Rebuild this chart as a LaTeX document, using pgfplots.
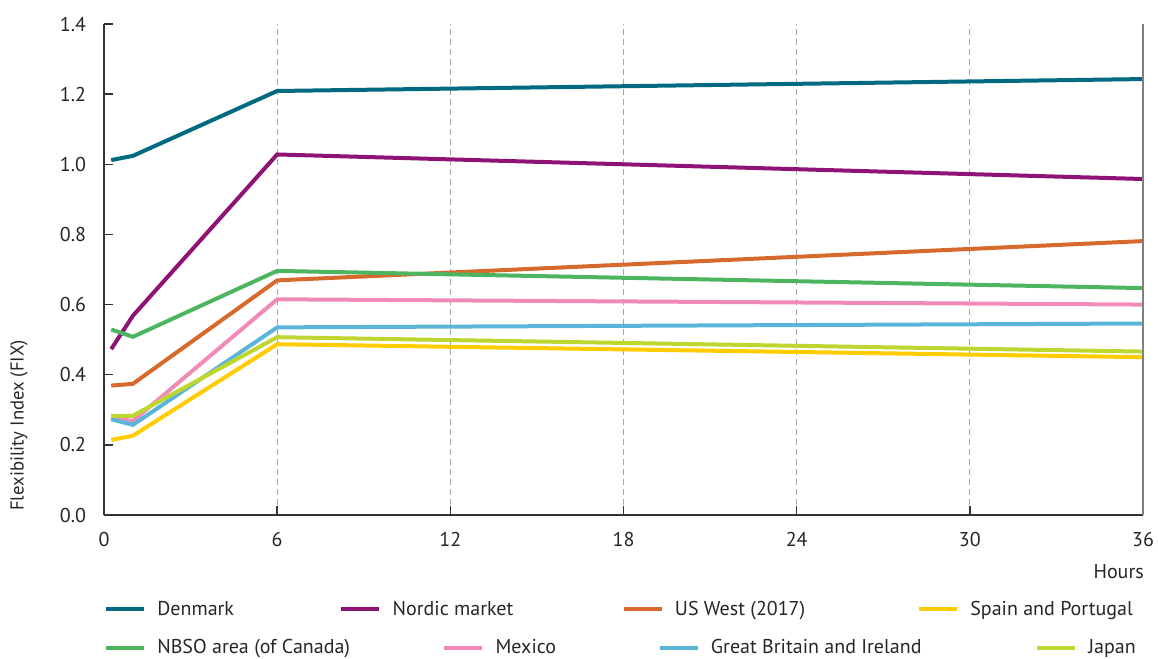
\documentclass[border=0pt]{standalone}
\usepackage{pgfplots}
\pgfplotsset{compat=1.18}
\usepackage{fontspec}
\setmainfont{PT Sans}
\definecolor{cDen}{HTML}{006A80}
\definecolor{cNor}{HTML}{8F1275}
\definecolor{cUS}{HTML}{D8692C}
\definecolor{cSpa}{HTML}{FFCC00}
\definecolor{cNB}{HTML}{4DB560}
\definecolor{cMex}{HTML}{F08BB8}
\definecolor{cGB}{HTML}{5BB5D8}
\definecolor{cJap}{HTML}{BFD630}
\definecolor{axgray}{HTML}{333333}
\definecolor{txt}{HTML}{262626}
\begin{document}
\begin{tikzpicture}
\useasboundingbox (-78pt,-107.25pt) rectangle (790.5pt,386.25pt);
\pgfplotsset{
  myleg/.style={
    legend style={draw=none, fill=none, inner sep=0pt, outer sep=0pt,
      font=\fontsize{15}{17}\selectfont, text=txt,
      nodes={inner sep=0pt, anchor=west},
      /tikz/every odd column/.append style={column sep=8.5pt},
      /tikz/every even column/.append style={column sep=0pt}},
    legend columns=4,
    legend image code/.code={\draw[##1, line width=3pt] (0pt,0pt) -- (28.5pt,0pt); \path (0pt,5pt);},
  }
}
\begin{axis}[
  at={(0,0)}, anchor=south west,
  scale only axis, width=779.25pt, height=368.25pt,
  xmin=0, xmax=36, ymin=0, ymax=1.4,
  axis x line*=bottom, axis y line*=left,
  axis line style={axgray, line width=1pt},
  xtick={0,6,...,36}, ytick={0,0.2,...,1.4},
  /pgf/number format/assume math mode=true,
  tick label style={font=\fontsize{15}{17}\selectfont, text=txt},
  yticklabel style={/pgf/number format/fixed, /pgf/number format/fixed zerofill, /pgf/number format/precision=1, xshift=-10pt},
  xticklabel style={yshift=-9.5pt},
  tick align=inside, major tick length=7pt,
  tick style={axgray, line width=1pt},
  xmajorgrids, grid style={gray!70, line width=0.9pt, dash pattern=on 4.5pt off 3pt},
  ylabel={Flexibility Index (FIX)},
  every axis y label/.style={at={(-63.75pt,3pt)}, rotate=90, anchor=west, inner sep=0pt, font=\fontsize{14}{16}\selectfont, text=txt},
  xlabel={Hours},
  every axis x label/.style={at={(780pt,-42.75pt)}, anchor=east, inner sep=0pt, font=\fontsize{15}{17}\selectfont, text=txt},
  myleg,
  legend style={at={(0pt,-70.5pt)}, anchor=west},
  clip=false,
]
\addplot[cDen, line width=3pt] coordinates {(0.25,1.012) (1,1.024) (6,1.209) (36,1.243)};
\addplot[cNor, line width=3pt] coordinates {(0.25,0.473) (1,0.568) (6,1.028) (36,0.958)};
\addplot[cUS, line width=3pt] coordinates {(0.25,0.369) (1,0.374) (6,0.669) (36,0.781)};
\addplot[cSpa, line width=3pt] coordinates {(0.25,0.214) (1,0.226) (6,0.487) (36,0.450)};
\addplot[cNB, line width=3pt, forget plot] coordinates {(0.25,0.529) (1,0.508) (6,0.696) (36,0.647)};
\addplot[cMex, line width=3pt, forget plot] coordinates {(0.25,0.277) (1,0.268) (6,0.615) (36,0.600)};
\addplot[cGB, line width=3pt, forget plot] coordinates {(0.25,0.273) (1,0.257) (6,0.535) (36,0.546)};
\addplot[cJap, line width=3pt, forget plot] coordinates {(0.25,0.283) (1,0.283) (6,0.507) (36,0.466)};
\draw[gray, line width=1.1pt] (rel axis cs:1,0) -- (rel axis cs:1,1);
\legend{\makebox[136.5pt][l]{Denmark},\makebox[171.75pt][l]{Nordic market},\makebox[181.5pt][l]{US West (2017)},Spain and Portugal}
\end{axis}
\begin{axis}[
  at={(0,0)}, anchor=south west,
  scale only axis, width=779.25pt, height=368.25pt,
  xmin=0, xmax=36, ymin=0, ymax=1.4,
  hide axis,
  myleg,
  legend style={at={(0pt,-99.5pt)}, anchor=west},
]
\addlegendimage{cNB}
\addlegendentry{\makebox[213.75pt][l]{NBSO area (of Canada)}}
\addlegendimage{cMex}
\addlegendentry{\makebox[121.5pt][l]{Mexico}}
\addlegendimage{cGB}
\addlegendentry{\makebox[243pt][l]{Great Britain and Ireland}}
\addlegendimage{cJap}
\addlegendentry{Japan}
\end{axis}
\end{tikzpicture}
\end{document}
